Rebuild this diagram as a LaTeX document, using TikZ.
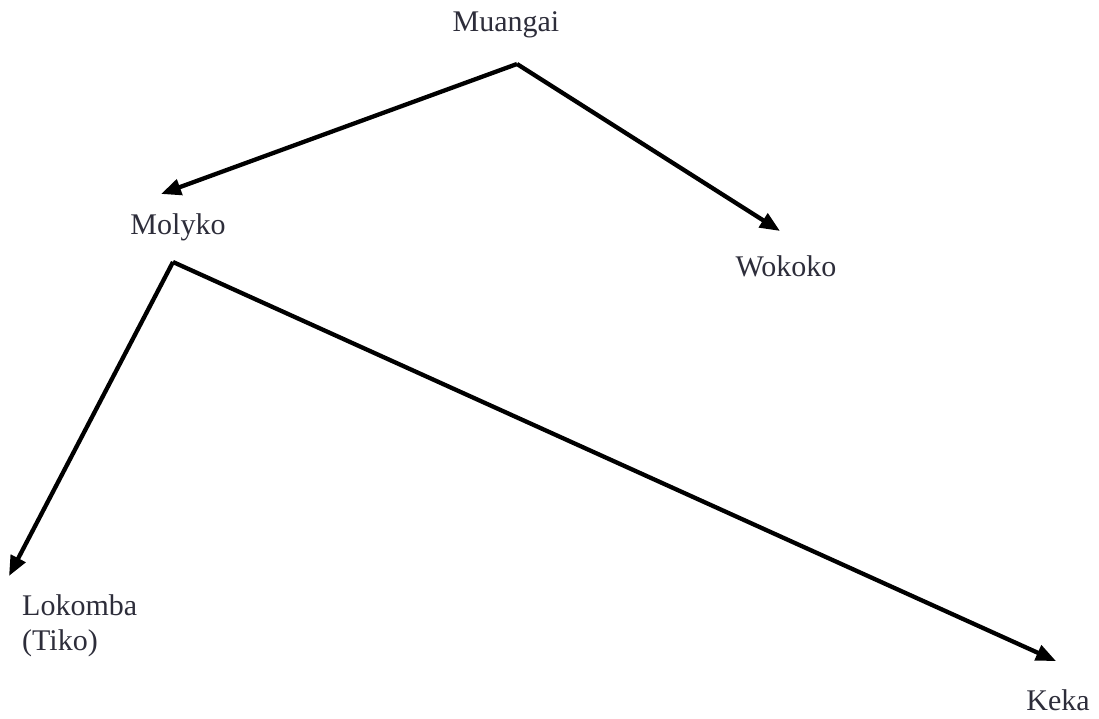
\documentclass[tikz,border=0pt]{standalone}
\usepackage{fontspec}
\setmainfont{Liberation Serif}
\usetikzlibrary{arrows.meta}
\definecolor{labelink}{RGB}{45,45,58}
\tikzset{
  place/.style={font=\fontsize{30}{35}\selectfont, text=labelink, inner sep=0pt},
  link/.style={line width=4.3pt, -{Triangle[length=20pt,width=16pt]}}
}
\begin{document}
\begin{tikzpicture}[x=1pt,y=-1pt]
  \useasboundingbox (0,0) rectangle (1099,719);
  % place names
  \node[place] (muangai) at (506,25) {Muangai};
  \node[place] (molyko) at (178,227) {Molyko};
  \node[place] (wokoko) at (786,266) {Wokoko};
  \node[place, align=left, anchor=north west] (lokomba) at (22,594) {Lokomba\\(Tiko)};
  \node[place] (keka) at (1058,700) {Keka};
  % branch points and arrow ends
  \coordinate (muangai-fork) at (517,64);
  \coordinate (molyko-fork) at (173,262);
  \coordinate (molyko-end) at (161,194);
  \coordinate (wokoko-end) at (780,231);
  \coordinate (lokomba-end) at (9,576);
  \coordinate (keka-end) at (1056,661);
  % connectors
  \draw[link] (muangai-fork) -- (molyko-end);
  \draw[link] (muangai-fork) -- (wokoko-end);
  \draw[link] (molyko-fork) -- (lokomba-end);
  \draw[link] (molyko-fork) -- (keka-end);
\end{tikzpicture}
\end{document}
